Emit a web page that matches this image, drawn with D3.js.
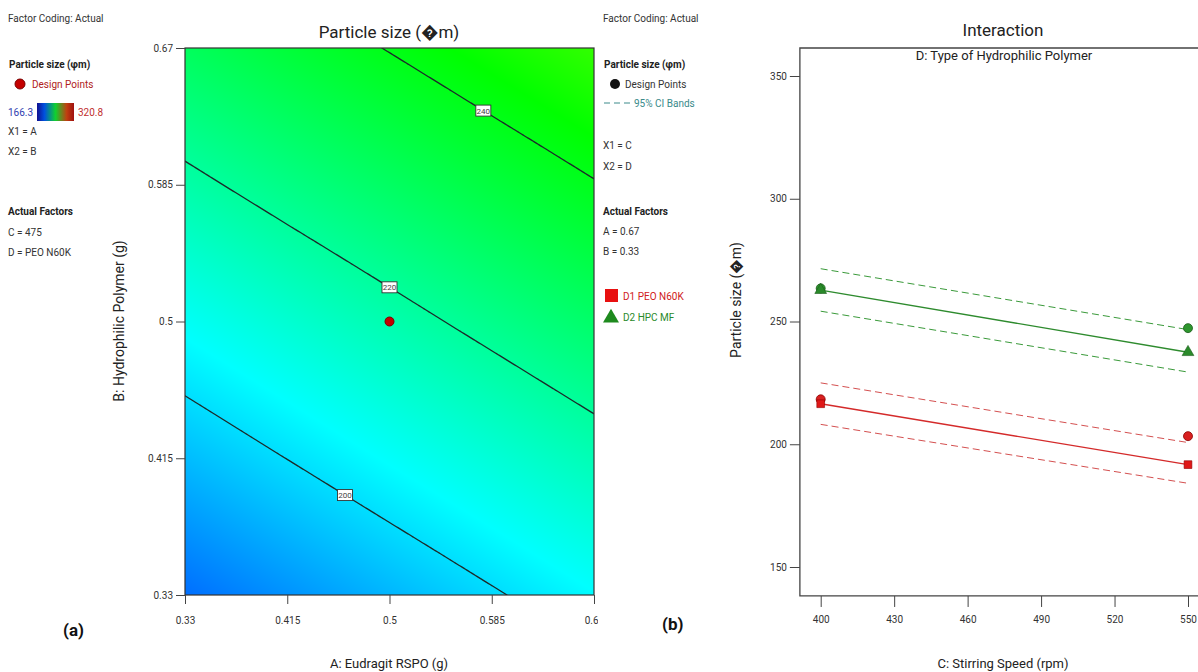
<!DOCTYPE html>
<html><head><meta charset="utf-8">
<script src="https://cdn.jsdelivr.net/npm/d3@7"></script>
<style>
body{margin:0;background:#fff;}
svg{display:block;}
text{font-family:"Liberation Sans Narrow","Roboto",sans-serif;}
</style>
</head><body>
<svg id="c" width="1198" height="672"></svg>
<script>
// ================= DATA =================
// (a) contour plot: response grid (Particle size) at factor levels A (cols) x B (rows)
const factorA = [0.33, 0.415, 0.5, 0.585, 0.67];
const factorB = [0.33, 0.415, 0.5, 0.585, 0.67];
const responseGrid = [          // rows: B ascending, cols: A ascending
  [183.0, 188.4, 193.8, 199.2, 204.6],
  [194.7, 200.1, 205.5, 210.8, 216.2],
  [206.3, 211.7, 217.1, 222.5, 227.9],
  [218.0, 223.4, 228.7, 234.1, 239.5],
  [229.6, 235.0, 240.4, 245.8, 251.1]
];
const contourLevels = [200, 220, 240];
const contourLabelAtA = [0.463, 0.5, 0.578];
const designPointA = [0.5];
const designPointB = [0.5];
const colorMinMax = [166.3, 320.8];
const contourTickLabels = ["0.33", "0.415", "0.5", "0.585", "0.67"];

// (b) interaction plot
const speedTicks = [400, 430, 460, 490, 520, 550];
const sizeTicks = [150, 200, 250, 300, 350];
const speeds = [400, 550];
const d1Pred   = [216.5, 191.7];
const d1Upper  = [225.0, 200.7];
const d1Lower  = [208.1, 184.1];
const d1Design = [218.3, 203.3];
const d2Pred   = [262.8, 237.5];
const d2Upper  = [271.5, 246.7];
const d2Lower  = [254.2, 229.4];
const d2Design = [263.5, 247.3];

// ================= DRAW =================
(function () {
const svg = d3.select("#c");
const FONT = '"Liberation Sans Narrow","Roboto",sans-serif';

// ---------- (a) contour panel ----------
const ax = d3.scaleLinear().domain([0.33, 0.67]).range([185, 594]);
const ay = d3.scaleLinear().domain([0.33, 0.67]).range([595, 48]);

function bil(A, B) {
  const st = factorA[1] - factorA[0];
  let fi = (A - factorA[0]) / st, fj = (B - factorB[0]) / st;
  fi = Math.max(0, Math.min(factorA.length - 1.0001, fi));
  fj = Math.max(0, Math.min(factorB.length - 1.0001, fj));
  const i = Math.floor(fi), j = Math.floor(fj), u = fi - i, v = fj - j;
  const g = responseGrid;
  return g[j][i] * (1 - u) * (1 - v) + g[j][i + 1] * u * (1 - v) + g[j + 1][i] * (1 - u) * v + g[j + 1][i + 1] * u * v;
}

const span = colorMinMax[1] - colorMinMax[0];
const color = d3.scaleLinear()
  .domain([0, 0.25, 0.5, 0.75, 1].map(t => colorMinMax[0] + t * span))
  .range(["#0000ff", "#00ffff", "#00ff00", "#ffff00", "#ff0000"])
  .clamp(true);

const defs = svg.append("defs");
const clipA = defs.append("clipPath").attr("id", "clipA");
clipA.append("rect").attr("x", ax(0.33)).attr("y", ay(0.67))
  .attr("width", ax(0.67) - ax(0.33)).attr("height", ay(0.33) - ay(0.67));

// raster fill through canvas
{
  const W = Math.round(ax(0.67) - ax(0.33)), H = Math.round(ay(0.33) - ay(0.67));
  const cv = document.createElement("canvas");
  cv.width = W; cv.height = H;
  const ctx = cv.getContext("2d");
  const img = ctx.createImageData(W, H);
  for (let py = 0; py < H; py++) {
    const B = ay.invert(ay(0.67) + py + 0.5);
    for (let px = 0; px < W; px++) {
      const A = ax.invert(ax(0.33) + px + 0.5);
      const c = d3.rgb(color(bil(A, B)));
      const k = (py * W + px) * 4;
      img.data[k] = c.r; img.data[k + 1] = c.g; img.data[k + 2] = c.b; img.data[k + 3] = 255;
    }
  }
  ctx.putImageData(img, 0, 0);
  svg.append("image").attr("href", cv.toDataURL())
    .attr("x", ax(0.33)).attr("y", ay(0.67)).attr("width", W).attr("height", H)
    .attr("preserveAspectRatio", "none");
}

// contour lines with d3.contours
{
  const N = 171, step = 0.34 / (N - 1);
  const vals = new Array(N * N);
  for (let j = 0; j < N; j++) {
    const B = 0.67 - j * step;
    for (let i = 0; i < N; i++) vals[j * N + i] = bil(0.33 + i * step, B);
  }
  const cs = d3.contours().size([N, N]).thresholds(contourLevels)(vals);
  const proj = d3.geoTransform({
    point: function (gx, gy) {
      this.stream.point(ax(0.33 + (gx - 0.5) * step), ay(0.67 - (gy - 0.5) * step));
    }
  });
  const path = d3.geoPath(proj);
  svg.append("g").attr("clip-path", "url(#clipA)")
    .selectAll("path").data(cs).join("path")
    .attr("d", path).attr("fill", "none").attr("stroke", "#1c2a2a").attr("stroke-width", 1.3);
}

// contour labels
contourLevels.forEach((lv, k) => {
  const A = contourLabelAtA[k];
  let lo = 0.33, hi = 0.67;
  for (let it = 0; it < 40; it++) { const m = (lo + hi) / 2; if (bil(A, m) < lv) lo = m; else hi = m; }
  const cx = ax(A), cy = ay((lo + hi) / 2);
  svg.append("rect").attr("x", cx - 7.5).attr("y", cy - 5.5).attr("width", 15).attr("height", 11)
    .attr("fill", "#fff").attr("stroke", "#333").attr("stroke-width", 0.9);
  svg.append("text").attr("x", cx).attr("y", cy + 3).attr("text-anchor", "middle")
    .attr("font-size", 8).attr("fill", "#444").text(lv);
});

// design point
svg.append("g").selectAll("circle").data(designPointA).join("circle")
  .attr("cx", (d) => ax(d)).attr("cy", (d, i) => ay(designPointB[i])).attr("r", 4.5)
  .attr("fill", "#c40000").attr("stroke", "#7a0000").attr("stroke-width", 1);

// frame
svg.append("rect").attr("x", ax(0.33)).attr("y", ay(0.67))
  .attr("width", ax(0.67) - ax(0.33)).attr("height", ay(0.33) - ay(0.67))
  .attr("fill", "none").attr("stroke", "#333").attr("stroke-width", 1.2);

// axes (a)
const clipAx = defs.append("clipPath").attr("id", "clipAx");
clipAx.append("rect").attr("x", 0).attr("y", 0).attr("width", 598).attr("height", 672);
const gax = svg.append("g").attr("clip-path", "url(#clipAx)").append("g")
  .attr("transform", `translate(0,${ay(0.33)})`)
  .call(d3.axisBottom(ax).tickValues(factorA).tickFormat((d, i) => contourTickLabels[i]).tickSize(9).tickPadding(13));
const gay = svg.append("g").attr("transform", `translate(${ax(0.33)},0)`)
  .call(d3.axisLeft(ay).tickValues(factorB).tickFormat((d, i) => contourTickLabels[i]).tickSize(9).tickPadding(3));
[gax, gay].forEach(g => {
  g.select(".domain").remove();
  g.selectAll("line").attr("stroke", "#444");
  g.selectAll("text").attr("font-size", 10).attr("fill", "#333").style("font-family", FONT);
});

svg.append("text").attr("x", 389).attr("y", 38).attr("text-anchor", "middle")
  .attr("font-size", 17).attr("fill", "#222").text("Particle size (\uFFFDm)");
svg.append("text").attr("x", 389).attr("y", 668).attr("text-anchor", "middle")
  .attr("font-size", 13).attr("fill", "#222").text("A: Eudragit RSPO (g)");
svg.append("text").attr("transform", "translate(124,321) rotate(-90)").attr("text-anchor", "middle")
  .attr("font-size", 14).attr("fill", "#222").style("font-family", "Roboto,sans-serif")
  .text("B: Hydrophilic Polymer (g)");

// ---------- legends ----------
function txt(x, y, s, opt = {}) {
  return svg.append("text").attr("x", x).attr("y", y).attr("font-size", opt.size || 10)
    .attr("fill", opt.fill || "#333").attr("font-weight", opt.bold ? "bold" : null)
    .attr("text-anchor", opt.anchor || "start").text(s);
}
// left legend
txt(8, 22, "Factor Coding: Actual");
txt(9, 68, "Particle size (\u03C6m)", { bold: true, fill: "#222" });
svg.append("circle").attr("cx", 20).attr("cy", 84).attr("r", 5).attr("fill", "#c40000").attr("stroke", "#7a0000");
txt(32, 88, "Design Points", { fill: "#b02020" });
const lg = defs.append("linearGradient").attr("id", "lgrad");
[["0%", "#101090"], ["20%", "#0050e0"], ["50%", "#10d030"], ["80%", "#c04010"], ["100%", "#a01010"]]
  .forEach(s => lg.append("stop").attr("offset", s[0]).attr("stop-color", s[1]));
txt(8, 116, "166.3", { fill: "#3040b0" });
svg.append("rect").attr("x", 37).attr("y", 103).attr("width", 37).attr("height", 18).attr("fill", "url(#lgrad)");
txt(78, 116, "320.8", { fill: "#c03030" });
txt(8, 135, "X1 = A");
txt(8, 155, "X2 = B");
txt(8, 215, "Actual Factors", { bold: true, fill: "#222" });
txt(8, 236, "C = 475");
txt(8, 256, "D = PEO N60K");
txt(63, 636, "(a)", { size: 17, fill: "#111", bold: true });

// middle legend
txt(603, 22, "Factor Coding: Actual");
txt(604, 68, "Particle size (\u03C6m)", { bold: true, fill: "#222" });
svg.append("circle").attr("cx", 615).attr("cy", 84).attr("r", 5).attr("fill", "#111");
txt(625, 88, "Design Points");
svg.append("line").attr("x1", 604).attr("x2", 634).attr("y1", 103).attr("y2", 103)
  .attr("stroke", "#3a8a8a").attr("stroke-dasharray", "6,4");
txt(634, 107, "95% CI Bands", { fill: "#3a8a8a" });
txt(603, 149, "X1 = C");
txt(603, 170, "X2 = D");
txt(603, 215, "Actual Factors", { bold: true, fill: "#222" });
txt(603, 235, "A = 0.67");
txt(603, 255, "B = 0.33");
svg.append("rect").attr("x", 605).attr("y", 289).attr("width", 13).attr("height", 13).attr("fill", "#e81010");
txt(623, 300, "D1 PEO N60K", { fill: "#d02020" });
svg.append("path").attr("d", d3.symbol(d3.symbolTriangle, 110)()).attr("transform", "translate(611,318)").attr("fill", "#1e8a1e");
txt(623, 321, "D2 HPC MF", { fill: "#2a8a2a" });
txt(662, 630, "(b)", { size: 17, fill: "#111", bold: true });

// ---------- (b) interaction plot ----------
const bx = d3.scaleLinear().domain([400, 550]).range([820.7, 1188]);
const by = d3.scaleLinear().domain([150, 350]).range([567, 76]);
const pLeft = bx(391.5), pTop = by(361.4), pBottom = by(138.2);

svg.append("path").attr("d", `M${1220},${pTop}H${pLeft}V${pBottom}H${1220}`)
  .attr("fill", "none").attr("stroke", "#444").attr("stroke-width", 1.3);

const gbx = svg.append("g").attr("transform", `translate(0,${pBottom})`)
  .call(d3.axisBottom(bx).tickValues(speedTicks).tickSize(11).tickPadding(9));
const gby = svg.append("g").attr("transform", `translate(${pLeft},0)`)
  .call(d3.axisLeft(by).tickValues(sizeTicks).tickSize(10).tickPadding(3));
[gbx, gby].forEach(g => {
  g.select(".domain").remove();
  g.selectAll("line").attr("stroke", "#444");
  g.selectAll("text").attr("font-size", 10).attr("fill", "#333").style("font-family", FONT);
});

svg.append("text").attr("x", 1003).attr("y", 36).attr("text-anchor", "middle")
  .attr("font-size", 17).attr("fill", "#222").text("Interaction");
svg.append("text").attr("x", 1004).attr("y", 60).attr("text-anchor", "middle")
  .attr("font-size", 13).attr("fill", "#222").text("D: Type of Hydrophilic Polymer");
svg.append("text").attr("x", 1003).attr("y", 668).attr("text-anchor", "middle")
  .attr("font-size", 13).attr("fill", "#222").text("C: Stirring Speed (rpm)");
svg.append("text").attr("transform", "translate(741,300) rotate(-90)").attr("text-anchor", "middle")
  .attr("font-size", 14).attr("fill", "#222").style("font-family", "Roboto,sans-serif")
  .text("Particle size (\uFFFDm)");

const line = d3.line().x((d) => bx(d[0])).y((d) => by(d[1]));
const zipS = arr => speeds.map((s, i) => [s, arr[i]]);
const series = [
  { pred: d1Pred, up: d1Upper, lo: d1Lower, des: d1Design, col: "#d42a2a", dash: "#d45050", mark: "square" },
  { pred: d2Pred, up: d2Upper, lo: d2Lower, des: d2Design, col: "#2e8b2e", dash: "#3a9a3a", mark: "triangle" }
];
series.forEach(s => {
  [s.up, s.lo].forEach(b => svg.append("path").attr("d", line(zipS(b))).attr("fill", "none")
    .attr("stroke", s.dash).attr("stroke-width", 1).attr("stroke-dasharray", "7,4"));
  svg.append("path").attr("d", line(zipS(s.pred))).attr("fill", "none").attr("stroke", s.col).attr("stroke-width", 1.4);
  svg.append("g").selectAll("circle").data(zipS(s.des)).join("circle")
    .attr("cx", d => bx(d[0])).attr("cy", d => by(d[1])).attr("r", 4.5)
    .attr("fill", s.mark === "square" ? "#d82020" : "#2e962e")
    .attr("stroke", s.mark === "square" ? "#8a0000" : "#1a5a1a").attr("stroke-width", 0.8);
  svg.append("g").selectAll("path").data(zipS(s.pred)).join("path")
    .attr("d", d3.symbol(s.mark === "square" ? d3.symbolSquare : d3.symbolTriangle, 60)())
    .attr("transform", d => `translate(${bx(d[0])},${by(d[1])})`)
    .attr("fill", s.mark === "square" ? "#e01818" : "#2a8a2a")
    .attr("stroke", s.mark === "square" ? "#900000" : "#1a5a1a").attr("stroke-width", 0.6);
});
})();
</script>
</body></html>
